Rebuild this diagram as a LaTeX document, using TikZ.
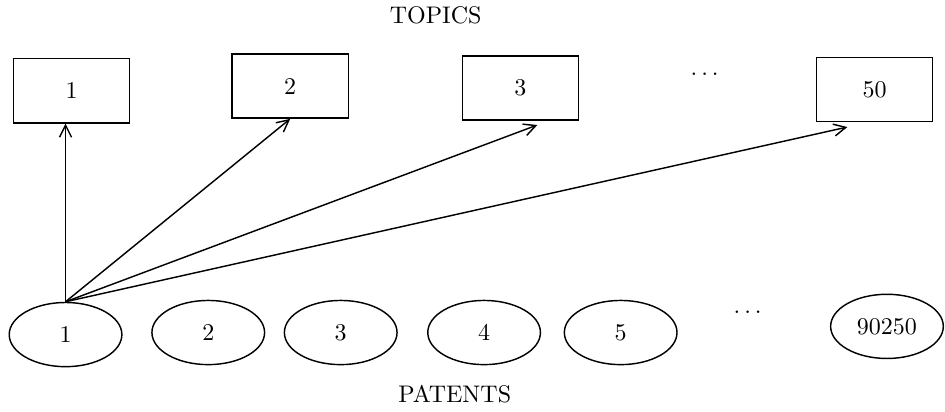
\documentclass[tikz,border=0pt]{standalone}
\usepackage{xcolor}
\usepackage{tikz}
\usetikzlibrary{shapes.geometric,arrows.meta}

\begin{document}
\begin{tikzpicture}[semithick,
    topicbox/.style={rectangle, minimum width=1.7cm, minimum height=0.94cm, draw},
    patentnode/.style={ellipse, minimum width=1.65cm, minimum height=0.94cm, draw, inner sep=1pt}]
\useasboundingbox (0,0) rectangle (13.84,6.03);
\node at (6.38,5.81) (topics) {TOPICS};
\node at (1.05,4.70) [topicbox] (topic1) {1};
\node at (4.25,4.77) [topicbox] (topic2) {2};
\node at (7.62,4.74) [topicbox] (topic3) {3};
\node at (10.32,4.95) (topicdots) {$\ldots$};
\node at (12.81,4.72) [topicbox] (topic50) {50};
\node at (0.96,1.13) [patentnode] (patent1) {1};
\node at (3.05,1.16) [patentnode] (patent2) {2};
\node at (4.99,1.16) [patentnode] (patent3) {3};
\node at (7.09,1.16) [patentnode] (patent4) {4};
\node at (9.09,1.16) [patentnode] (patent5) {5};
\node at (10.95,1.45) (patentdots) {$\ldots$};
\node at (12.99,1.25) [patentnode] (patent90250) {90250};
\node at (6.66,0.25) (patents) {PATENTS};
\draw (patent1.north)[-{Straight Barb[length=5pt,width=5pt]}] -- (patent1.north |- topic1.south);
\draw (patent1.north)[-{Straight Barb[length=5pt,width=5pt]}] -- (topic2.south);
\draw (patent1.north)[-{Straight Barb[length=5pt,width=5pt]}] -- ([shift={(0.25,-0.06)}]topic3.south);
\draw (patent1.north)[-{Straight Barb[length=5pt,width=5pt]}] -- ([shift={(-0.40,-0.07)}]topic50.south);
\end{tikzpicture}
\end{document}
